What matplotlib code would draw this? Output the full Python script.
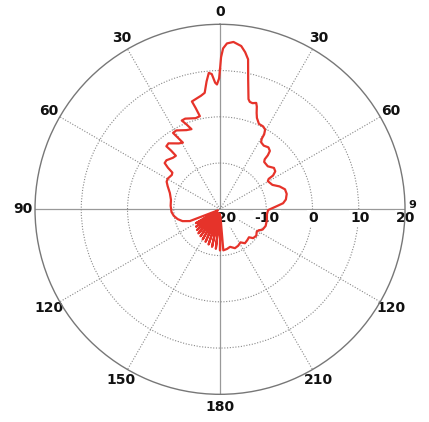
import numpy as np
import matplotlib
matplotlib.use("Agg")
from matplotlib import pyplot as plt
from matplotlib.transforms import offset_copy

# Radiation pattern: angle (deg, clockwise from top) and gain (dB)
angle_deg = [
    0.0, 0.4, 1.1, 2.4, 4.6, 7.4, 9.1, 10.6, 12.2, 14.5, 15.5, 17.0, 18.8,
    19.7, 20.8, 22.0, 24.5, 27.5, 29.5, 30.5, 30.6, 31.5, 34.5, 38.0, 40.5,
    41.5, 41.8, 43.0, 48.0, 52.5, 55.5, 57.5, 58.0, 59.5, 65.0, 69.0, 72.9,
    77.0, 81.5, 84.5, 87.0, 90.9, 96.0, 102.9, 110.0, 115.5, 118.5, 121.4,
    126.0, 131.0, 134.0, 138.5, 143.7, 148.3, 153.5, 159.0, 165.0, 170.0,
    175.4,
    176.5, 180.0, 183.0, 186.0, 189.0, 192.0, 195.0, 198.0, 201.0, 204.0,
    207.0, 210.0, 213.0, 216.0, 219.0, 222.0, 225.0, 228.0, 231.0, 234.0,
    237.0, 240.0, 244.0,
    248.7, 252.5, 257.0, 262.0, 266.8, 274.0, 280.9, 288.0, 294.0, 297.4,
    300.5, 305.5, 307.6, 308.6, 309.9, 312.5, 317.5, 320.5, 320.2, 319.6,
    322.0, 328.0, 330.9, 329.5, 328.4, 331.0, 337.0, 340.4, 338.5, 336.7,
    339.0, 345.0, 347.8, 346.5, 345.4, 347.5, 350.5, 352.5, 354.0, 355.3,
    356.5, 357.8, 358.6, 359.6, 360.0,
]
gain_db = [
    10.3, 12.9, 14.8, 15.9, 16.3, 15.6, 14.4, 13.0, 8.8, 4.6, 4.1, 4.0, 4.3,
    3.6, 2.3, 1.3, 0.3, 0.2, -0.2, -1.2, -2.3, -3.0, -3.3, -3.0, -3.4,
    -4.4, -5.5, -6.0, -6.1, -5.3, -5.5, -6.4, -7.6, -8.0, -7.5, -6.2, -5.3,
    -5.2, -5.6, -6.3, -7.8, -9.6, -9.8, -9.6, -9.5, -9.8, -10.5, -10.7,
    -10.3, -10.5, -11.3, -11.1, -10.9, -11.6, -11.2, -11.0, -11.6, -11.3,
    -11.1,
    -18.5, -11.1, -19.0, -11.4, -19.0, -11.7, -19.0, -12.0, -19.0, -12.3,
    -19.0, -12.5, -19.0, -12.8, -19.0, -13.0, -19.0, -13.3, -19.0, -13.6,
    -19.0, -14.0, -19.5,
    -13.0, -11.5, -10.6, -9.9, -9.5, -9.3, -9.2, -8.6, -7.6, -7.0,
    -6.9, -7.2, -7.0, -5.6, -4.4, -4.3, -4.9, -5.0, -3.5, -2.1,
    -1.9, -3.2, -3.5, -2.0, -0.6, -0.5, -1.4, -1.6, -0.3, 0.9,
    1.0, 0.4, 0.6, 2.5, 4.1, 4.4, 4.9, 5.4, 7.8, 9.6,
    9.3, 7.4, 7.0, 8.3, 10.3,
]

theta_ticks = list(range(0, 360, 30))
theta_labels = ["0", "30", "60", "", "120", "210", "180", "150", "120", "90", "60", "30"]
r_ticks = [-20, -10, 0, 10, 20]
r_labels = ["-20", "-10", "0", "10", "20"]

fig = plt.figure(figsize=(4.29, 4.22), dpi=100)
ax = fig.add_axes([0.0816, 0.0656, 0.8625, 0.8768], projection="polar")
ax.set_theta_zero_location("N")
ax.set_theta_direction(-1)
ax.set_rlim(-20, 20)

ax.plot(np.deg2rad(angle_deg), gain_db, color="#e6332a", lw=1.6, zorder=3,
        solid_joinstyle="round")

# grid: dotted rings and spokes, solid cross through the centre
ax.set_rticks(r_ticks[1:-1])
ax.set_yticklabels([])
ax.set_thetagrids(theta_ticks, theta_labels, fontsize=10, fontweight="bold", color="#111111")
ax.tick_params(axis="x", pad=-1.5)
ax.grid(True, color="#888888", lw=0.8, linestyle=(0, (1, 1.5)))
for i, line in enumerate(ax.xaxis.get_gridlines()):
    if theta_ticks[i] % 90 == 0:
        line.set_linestyle("-")
        line.set_color("#999999")
        line.set_linewidth(0.9)
ax.spines["polar"].set_color("#777777")
ax.spines["polar"].set_linewidth(1.0)

# radial labels sit just under the horizontal axis
for r, lab in zip(r_ticks, r_labels):
    dx = 4 if r == r_ticks[0] else 1
    shifted = offset_copy(ax.transData, fig=fig, x=dx, y=-9, units="dots")
    ax.text(np.pi / 2, r, lab, transform=shifted, ha="center", va="center",
            fontsize=10, fontweight="bold", color="#111111", zorder=2,
            bbox=dict(facecolor="white", edgecolor="none", pad=1.0))
fig.text(412 / 429, 1 - 205 / 422, "9", ha="center", va="center",
         fontsize=8, fontweight="bold", color="#111111")

fig.savefig("out.png", dpi=100)
